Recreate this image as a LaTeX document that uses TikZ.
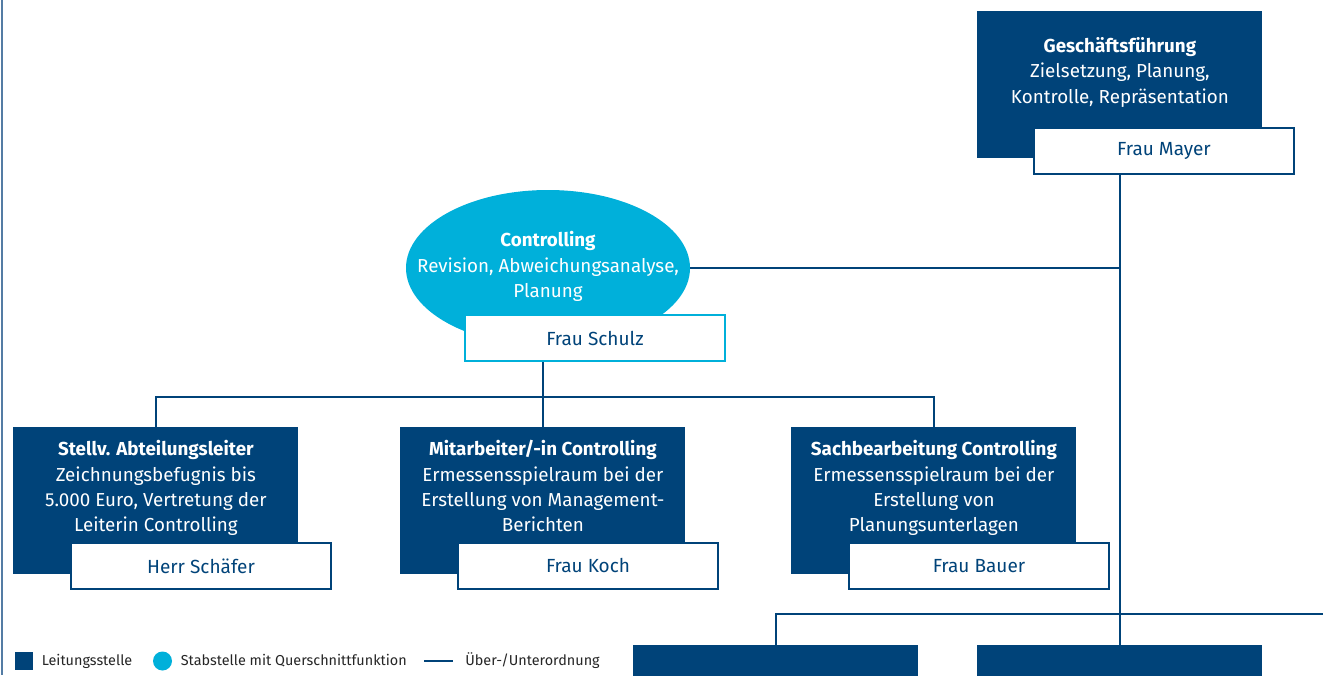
\documentclass[tikz,border=0pt]{standalone}
\usepackage{fontspec}
\setmainfont{Fira Sans}
\usepackage{xcolor}
\usetikzlibrary{calc, positioning, shapes.geometric}

\definecolor{leadblue}{RGB}{0,67,121}
\definecolor{staffcyan}{RGB}{0,176,218}
\definecolor{framegrey}{RGB}{84,124,164}

\begin{document}
\begin{tikzpicture}[x=0.5pt,y=-0.5pt,
    lead node/.style={fill=leadblue,anchor=north west,inner sep=0,
      minimum width=142.5pt,minimum height=73.5pt},
    name node/.style={draw=leadblue,line width=1pt,fill=white,text=leadblue,
      anchor=north west,inner sep=0,minimum width=130pt,minimum height=23pt,
      font=\fontsize{9.5}{12}\selectfont},
    staff node/.style={ellipse,fill=staffcyan,inner sep=0,
      minimum width=142pt,minimum height=78pt},
    box text/.style={text=white,align=center,inner sep=0,
      font=\fontsize{9.4}{12.7}\selectfont},
    legend text/.style={text=black!85,inner sep=0,font=\fontsize{7.2}{9}\selectfont},
    link/.style={draw=leadblue,line width=1.25pt}]

  \clip (0,0) rectangle (1323,675);
  \fill[white] (0,0) rectangle (1323,675);
  \draw[framegrey,line width=1pt] (2,0) -- (2,675);

  % top level
  \node[lead node] (gf) at (977,11) {};
  \node[box text,below=13pt of gf.north] (gftext)
    {\textbf{Geschäftsführung}\\Zielsetzung, Planung,\\Kontrolle, Repräsentation};
  \node[name node] (mayer) at (1033,127) {Frau Mayer};

  % staff unit
  \node[staff node] (ctrl) at (548,268) {};
  \node[box text,anchor=north] (ctrltext) at (548,231)
    {\textbf{Controlling}\\Revision, Abweichungsanalyse,\\Planung};
  \node[name node,draw=staffcyan] (schulz) at (464,314) {Frau Schulz};

  % controlling team
  \node[lead node] (stv) at (13,427) {};
  \node[box text,below=6.5pt of stv.north] (stvtext)
    {\textbf{Stellv. Abteilungsleiter}\\Zeichnungsbefugnis bis\\5.000 Euro, Vertretung der\\Leiterin Controlling};
  \node[name node] (schaefer) at ($(stv.north west)+(57,115)$) {Herr Schäfer};

  \node[lead node] (mit) at (400,427) {};
  \node[box text,below=6.5pt of mit.north] (mittext)
    {\textbf{Mitarbeiter/-in Controlling}\\Ermessensspielraum bei der\\Erstellung von Management-\\Berichten};
  \node[name node] (koch) at ($(mit.north west)+(57,115)$) {Frau Koch};

  \node[lead node] (sach) at (791,427) {};
  \node[box text,below=6.5pt of sach.north] (sachtext)
    {\textbf{Sachbearbeitung Controlling}\\Ermessensspielraum bei der\\Erstellung von\\Planungsunterlagen};
  \node[name node] (bauer) at ($(sach.north west)+(57,115)$) {Frau Bauer};

  % lower units
  \node[lead node] (low1) at (633,645) {};
  \node[lead node] (low2) at (977,645) {};

  % lines
  \coordinate (bar) at (543,397);
  \coordinate (offright) at (1330,614);
  \draw[link] (mayer.south -| gf.south) -- (low2.north);
  \draw[link] (ctrl.east) -- (ctrl.east -| gf.south);
  \draw[link] (schulz.south -| mit.north) -- (mit.north);
  \draw[link] (stv.north) |- (bar) -| (sach.north);
  \draw[link] (low1.north) |- (offright);

  % legend
  \node[fill=leadblue,inner sep=0,minimum size=9pt] (leadkey) at (24,661) {};
  \node[legend text,right=4pt of leadkey] (leadlabel) {Leitungsstelle};
  \node[circle,fill=staffcyan,inner sep=0,minimum size=9.5pt] (staffkey) at (162.5,661) {};
  \node[legend text,right=4pt of staffkey] (stafflabel) {Stabstelle mit Querschnittfunktion};
  \coordinate (linekeya) at (424,661);
  \coordinate (linekeyb) at (453,661);
  \draw[link] (linekeya) -- (linekeyb);
  \node[legend text,right=6pt of linekeyb] (linelabel) {Über-/Unterordnung};

\end{tikzpicture}
\end{document}
